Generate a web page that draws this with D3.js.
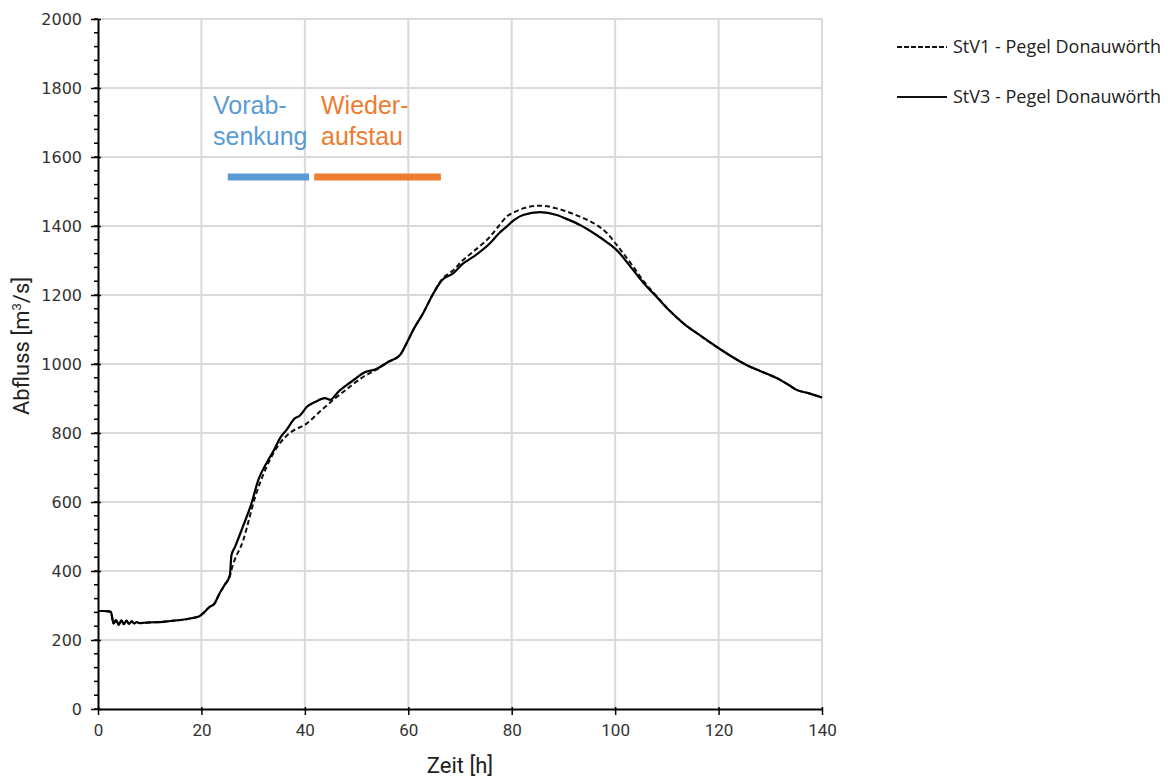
<!DOCTYPE html>
<html>
<head>
<meta charset="utf-8">
<script src="https://cdn.jsdelivr.net/npm/d3@7"></script>
<style>
  body { margin: 0; background: #fff; }
  svg { display: block; }
</style>
</head>
<body>
<svg id="chart" width="1175" height="778"></svg>
<script>
// Zeit [h] und Abfluss [m3/s], StV3 (durchgezogen)
var stv3Time = [0, 1, 2, 2.5, 3, 3.5, 4, 4.5, 5, 5.5, 6, 6.5, 7, 7.5, 8, 9, 10, 12, 14, 16, 18, 19.5, 20.5, 21.5, 22.5, 23.5, 24.5, 25.5, 25.8, 26.5, 28, 29.7, 31, 32.6, 34, 35.2, 36.5, 38.1, 39, 40.4, 42, 43.9, 44.9, 46.5, 48.1, 50, 51.3, 53.9, 56, 58.4, 59.7, 61, 62.9, 64.5, 66.5, 68.7, 70.5, 72.6, 75.8, 77.5, 79, 80.5, 82.2, 85.5, 88.7, 91, 93.2, 96.4, 98.5, 100.3, 103.5, 105.5, 108, 110.5, 113.2, 116.5, 119.6, 122.5, 125.4, 128.5, 131.9, 133.5, 135.1, 137.5, 140];
var stv3Flow = [284, 284, 283, 281, 248, 258, 244, 257, 246, 256, 247, 254, 248, 252, 249, 250, 251, 252, 255, 258, 263, 268, 280, 295, 305, 335, 360, 388, 445, 470, 528, 597, 664, 713, 750, 785, 810, 843, 850, 876, 890, 901, 896, 920, 939, 960, 974, 986, 1005, 1026, 1061, 1100, 1148, 1195, 1243, 1263, 1290, 1311, 1350, 1378, 1398, 1418, 1432, 1440, 1432, 1418, 1403, 1374, 1352, 1330, 1272, 1235, 1195, 1155, 1118, 1082, 1050, 1022, 997, 977, 954, 940, 925, 915, 903];

// StV1 (gestrichelt)
var stv1Time = [0, 1, 2, 2.5, 3, 3.5, 4, 4.5, 5, 5.5, 6, 6.5, 7, 7.5, 8, 9, 10, 12, 14, 16, 18, 19.5, 20.5, 21.5, 22.5, 23.5, 24.5, 25.5, 25.8, 28.1, 30.4, 32.6, 35.2, 37.1, 40.4, 42.9, 45.5, 48.7, 51.3, 53.9, 56, 58.4, 59.7, 61, 62.9, 64.5, 66.5, 68.7, 70.5, 72.6, 75.8, 77.5, 79, 80.5, 82.2, 85.5, 88.7, 91, 93.2, 96.4, 98.5, 100.3, 103.5, 105.5, 108, 110.5, 113.2, 116.5, 119.6, 122.5, 125.4, 128.5, 131.9, 133.5, 135.1, 137.5, 140];
var stv1Flow = [284, 284, 283, 281, 248, 258, 244, 257, 246, 256, 247, 254, 248, 252, 249, 250, 251, 252, 255, 258, 263, 268, 280, 295, 305, 335, 360, 385, 403, 490, 615, 702, 771, 800, 828, 862, 896, 934, 963, 984, 1005, 1026, 1061, 1100, 1148, 1195, 1245, 1272, 1300, 1326, 1369, 1400, 1427, 1440, 1451, 1459, 1451, 1440, 1427, 1403, 1378, 1345, 1282, 1240, 1197, 1155, 1118, 1082, 1050, 1022, 997, 977, 954, 940, 925, 915, 903];

var xTicks = [0, 20, 40, 60, 80, 100, 120, 140];
var yTicks = [0, 200, 400, 600, 800, 1000, 1200, 1400, 1600, 1800, 2000];
var yMinorTicks = d3.range(0, 2001, 40);

// Phasen: [Beginn, Ende] in h, Abfluss-Höhe der Balken
var phaseNames = ["Vorab-|senkung", "Wieder-|aufstau"];
var phaseStart = [25.1, 41.8];
var phaseEnd = [40.8, 66.3];
var phaseLevel = 1542;
var phaseColors = ["#5b9bd5", "#ed7d31"];

var legendNames = ["StV1 - Pegel Donauwörth", "StV3 - Pegel Donauwörth"];

var svg = d3.select("#chart");
var x = d3.scaleLinear().domain([0, 140]).range([98, 822]);
var y = d3.scaleLinear().domain([0, 2000]).range([709, 19]);

// Gitter
svg.append("g").selectAll("line").data(xTicks.slice(1)).enter().append("line")
	.attr("x1", function(d) { return x(d); }).attr("x2", function(d) { return x(d); })
	.attr("y1", y(0)).attr("y2", y(2000))
	.attr("stroke", "#d9d9d9").attr("stroke-width", 2);
svg.append("g").selectAll("line").data(yTicks.slice(1)).enter().append("line")
	.attr("x1", x(0)).attr("x2", x(140))
	.attr("y1", function(d) { return y(d); }).attr("y2", function(d) { return y(d); })
	.attr("stroke", "#d9d9d9").attr("stroke-width", 2);

// kleine Striche an der y-Achse
svg.append("g").selectAll("line").data(yMinorTicks).enter().append("line")
	.attr("x1", x(0) - 4).attr("x2", x(0))
	.attr("y1", function(d) { return y(d); }).attr("y2", function(d) { return y(d); })
	.attr("stroke", "#000").attr("stroke-width", 1.5);

// Achsen
var xAxis = svg.append("g").attr("transform", "translate(0," + y(0) + ")")
	.call(d3.axisBottom(x).tickValues(xTicks).tickSize(6).tickPadding(9).tickSizeOuter(0));
var yAxis = svg.append("g").attr("transform", "translate(" + x(0) + ",0)")
	.call(d3.axisLeft(y).tickValues(yTicks).tickFormat(d3.format("d")).tickSize(7).tickPadding(9).tickSizeOuter(0));
xAxis.select(".domain").attr("stroke-width", 2);
yAxis.select(".domain").attr("stroke-width", 2);
xAxis.selectAll(".tick line").attr("stroke-width", 1.5).attr("y1", -2);
yAxis.selectAll(".tick line").attr("stroke-width", 1.5).attr("x1", 3);
xAxis.selectAll("text").attr("font-family", "Roboto, sans-serif")
	.attr("font-size", 17).attr("fill", "#333");
yAxis.selectAll("text").attr("font-family", "'DejaVu Sans', sans-serif")
	.attr("font-size", 16).attr("fill", "#333");

// Achsentitel
svg.append("text").attr("x", 460).attr("y", 773).attr("text-anchor", "middle")
	.attr("font-family", "Roboto, sans-serif").attr("font-size", 22).attr("fill", "#222")
	.text("Zeit [h]");
var yt = svg.append("text").attr("transform", "translate(29,346) rotate(-90)").attr("text-anchor", "middle")
	.attr("font-family", "Roboto, sans-serif").attr("font-size", 22).attr("fill", "#222");
yt.append("tspan").text("Abfluss [m");
yt.append("tspan").attr("font-size", 13).attr("dy", -8).text("3");
yt.append("tspan").attr("dy", 8).text("/s]");

// Linien
var line = d3.line().curve(d3.curveMonotoneX)
	.x(function(d) { return x(d[0]); }).y(function(d) { return y(d[1]); });
var stv1 = stv1Time.map(function(t, i) { return [t, stv1Flow[i]]; });
var stv3 = stv3Time.map(function(t, i) { return [t, stv3Flow[i]]; });
svg.append("path").datum(stv1).attr("d", line).attr("fill", "none")
	.attr("stroke", "#111").attr("stroke-width", 2).attr("stroke-dasharray", "5,3");
svg.append("path").datum(stv3).attr("d", line).attr("fill", "none")
	.attr("stroke", "#000").attr("stroke-width", 2.2);

// Phasen-Balken und Beschriftung
phaseNames.forEach(function(name, i) {
	svg.append("line").attr("x1", x(phaseStart[i])).attr("x2", x(phaseEnd[i]))
		.attr("y1", y(phaseLevel)).attr("y2", y(phaseLevel))
		.attr("stroke", phaseColors[i]).attr("stroke-width", 7);
	var parts = name.split("|");
	var tx = i == 0 ? 213 : 321;
	parts.forEach(function(p, k) {
		svg.append("text").attr("x", tx).attr("y", 114 + k * 31)
			.attr("font-family", "'Liberation Sans', Arial, sans-serif").attr("font-size", 25)
			.attr("fill", phaseColors[i]).text(p);
	});
});

// Legende
legendNames.forEach(function(name, i) {
	var ly = 47 + i * 50;
	svg.append("line").attr("x1", 897).attr("x2", 947).attr("y1", ly).attr("y2", ly)
		.attr("stroke", "#111").attr("stroke-width", 2)
		.attr("stroke-dasharray", i == 0 ? "5,2" : null);
	svg.append("text").attr("x", 953).attr("y", ly + 6)
		.attr("font-family", "'Open Sans', sans-serif").attr("font-size", 18).attr("fill", "#222")
		.text(name);
});
</script>
</body>
</html>
